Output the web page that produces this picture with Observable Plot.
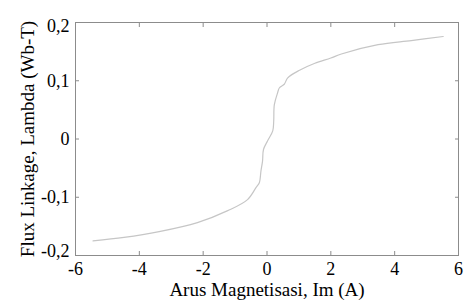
<!DOCTYPE html>
<html>
<head>
<meta charset="utf-8">
<script src="https://cdn.jsdelivr.net/npm/d3@7"></script>
<script src="https://cdn.jsdelivr.net/npm/@observablehq/plot@0.6"></script>
<style>
  html, body { margin: 0; padding: 0; background: #fff; }
  #chart svg { display: block; }
  #chart svg text { font-family: "Liberation Serif", "Times New Roman", serif; }
</style>
</head>
<body>
<div id="chart"></div>
<script>
const current = [-5.45, -4.48, -3.38, -2.18, -1.23, -0.61, -0.34, -0.24, -0.19, -0.14, -0.11, 0.02, 0.18, 0.21, 0.23, 0.33, 0.39, 0.54, 0.65, 1.02, 1.5, 2.0, 2.33, 3.48, 4.52, 5.52];
const flux = [-0.175, -0.169, -0.159, -0.1435, -0.123, -0.104, -0.083, -0.075, -0.055, -0.038, -0.018, -0.003, 0.014, 0.030, 0.059, 0.079, 0.088, 0.094, 0.105, 0.118, 0.130, 0.139, 0.146, 0.162, 0.169, 0.176];
const xTicks = [-6, -4, -2, 0, 2, 4, 6];
const yTicks = [-0.2, -0.1, 0, 0.1, 0.2];
const xLabel = "Arus Magnetisasi, Im (A)";
const yLabel = "Flux Linkage, Lambda (Wb-T)";

const data = current.map((x, i) => ({x, y: flux[i]}));
const fmtY = d => d === 0 ? "0" : d.toFixed(1).replace(".", ",");
const blank = () => "";
const yTop = yTicks.slice(-1);
const yBottom = yTicks.slice(0, 1);
const yMid = yTicks.slice(1, -1);

const chart = Plot.plot({
  width: 465,
  height: 302,
  marginLeft: 75,
  marginRight: 7,
  marginTop: 22,
  marginBottom: 47,
  style: {fontFamily: "'Liberation Serif', 'Times New Roman', serif", fontSize: "18px", color: "#000", background: "#fff"},
  x: {domain: [-6, 6]},
  y: {domain: [-0.2, 0.2]},
  marks: [
    Plot.frame({stroke: "#8c8c8c"}),
    Plot.axisX(xTicks, {anchor: "bottom", tickSize: 0, tickPadding: 7, label: xLabel, labelAnchor: "center", labelOffset: 40, tickFormat: d => String(d)}),
    Plot.axisX(xTicks, {anchor: "bottom", tickSize: -4, tickFormat: blank, label: null, stroke: "#8c8c8c"}),
    Plot.axisX(xTicks, {anchor: "top", tickSize: -4, tickFormat: blank, label: null, stroke: "#8c8c8c"}),
    Plot.axisY(yMid, {anchor: "left", tickSize: 0, tickPadding: 6, tickFormat: fmtY, label: yLabel, labelAnchor: "center", labelOffset: 55}),
    Plot.text(yTop, {y: d => d, text: fmtY, frameAnchor: "left", textAnchor: "end", dx: -6, dy: 4, fill: "#000"}),
    Plot.text(yBottom, {y: d => d, text: fmtY, frameAnchor: "left", textAnchor: "end", dx: -6, dy: -4, fill: "#000"}),
    Plot.axisY(yTicks, {anchor: "left", tickSize: -4, tickFormat: blank, label: null, stroke: "#8c8c8c"}),
    Plot.axisY(yTicks, {anchor: "right", tickSize: -4, tickFormat: blank, label: null, stroke: "#8c8c8c"}),
    Plot.line(data, {x: "x", y: "y", stroke: "#c6c6c6", strokeWidth: 1.2, curve: "catmull-rom"})
  ]
});
chart.querySelectorAll("text").forEach(t => {
  t.style.fontSize = "18px";
  t.style.fontFamily = "'Liberation Serif', 'Times New Roman', serif";
  t.textContent = t.textContent.replace(/\s*[\u2191\u2193\u2190\u2192]\s*/g, "").trim();
});
chart.querySelectorAll('[aria-label="x-axis label"] text, [aria-label="y-axis label"] text').forEach(t => {
  t.style.fontSize = "19px";
});
document.getElementById("chart").appendChild(chart);
</script>
</body>
</html>
